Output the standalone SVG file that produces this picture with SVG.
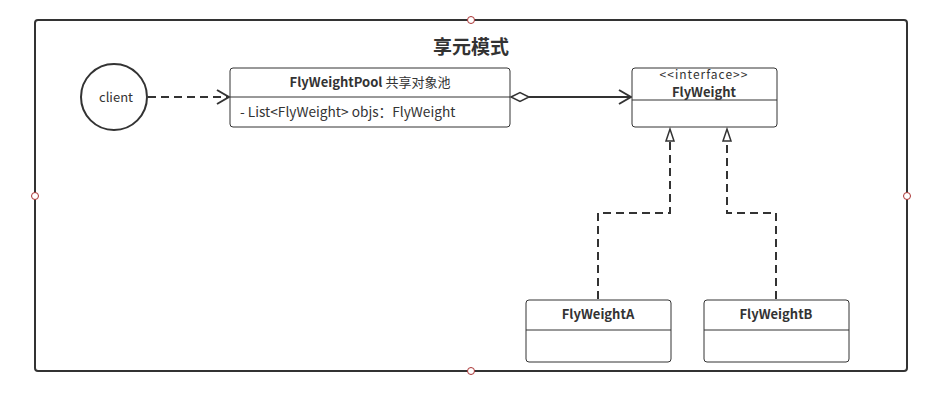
<svg xmlns="http://www.w3.org/2000/svg" width="941" height="400" viewBox="0 0 941 400">
<defs>
<style>
.box{fill:#fff;stroke:#333;stroke-width:1}
.frame{fill:none;stroke:#333;stroke-width:2}
.t{font-family:"Noto Sans CJK SC","Noto Sans",sans-serif;fill:#333;font-size:13px}
.b{font-weight:bold}
.c{stroke:#333;stroke-width:2;fill:none}
.d{stroke-dasharray:8,5}
.h{fill:#fff;stroke:#a33;stroke-width:1}
</style>
<marker id="open" markerWidth="14" markerHeight="16" refX="13" refY="8" orient="auto" markerUnits="userSpaceOnUse">
<path d="M1,1 L13,8 L1,15" fill="none" stroke="#333" stroke-width="2"/>
</marker>
</defs>
<rect x="0" y="0" width="941" height="400" fill="#fff"/>
<rect class="frame" x="35" y="20" width="872" height="351" rx="3"/>
<text class="t b" x="471" y="54" text-anchor="middle" style="font-size:19px">享元模式</text>
<g id="client">
<circle cx="114" cy="97" r="33" fill="#fff" stroke="#333" stroke-width="2"/>
<text class="t" x="116" y="102" text-anchor="middle">client</text>
</g>
<g id="pool">
<rect class="box" x="230" y="68" width="280" height="59" rx="3"/>
<line x1="230" y1="97" x2="510" y2="97" stroke="#333"/>
<text class="t b" x="370" y="87" text-anchor="middle">FlyWeightPool <tspan font-weight="normal">共享对象池</tspan></text>
<text class="t" x="240" y="117" style="font-size:13.7px">- List&lt;FlyWeight&gt; objs：FlyWeight</text>
</g>
<g id="flyweight">
<rect class="box" x="632" y="68" width="145" height="59" rx="3"/>
<line x1="632" y1="100" x2="777" y2="100" stroke="#333"/>
<text class="t" x="704" y="79" text-anchor="middle" style="font-size:12px;letter-spacing:1px">&lt;&lt;interface&gt;&gt;</text>
<text class="t b" x="704" y="97" text-anchor="middle">FlyWeight</text>
</g>
<g id="flyweightA">
<rect class="box" x="526" y="300" width="145" height="62" rx="3"/>
<line x1="526" y1="330" x2="671" y2="330" stroke="#333"/>
<text class="t b" x="598" y="319" text-anchor="middle">FlyWeightA</text>
</g>
<g id="flyweightB">
<rect class="box" x="704" y="300" width="145" height="62" rx="3"/>
<line x1="704" y1="330" x2="849" y2="330" stroke="#333"/>
<text class="t b" x="776" y="319" text-anchor="middle">FlyWeightB</text>
</g>
<g id="connectors">
<line class="c d" x1="148" y1="97" x2="229" y2="97" marker-end="url(#open)"/>
<path d="M511,97 L520,92.5 L529,97 L520,101.5 Z" fill="#fff" stroke="#333" stroke-width="1.5"/>
<line class="c" x1="529" y1="97" x2="631" y2="97" marker-end="url(#open)"/>
<path class="c d" d="M598,299 V213 H670 V140"/>
<path d="M666,141 L670,129 L674,141 Z" fill="#fff" stroke="#333" stroke-width="1.5"/>
<path class="c d" d="M776,299 V213 H727 V140"/>
<path d="M723,141 L727,129 L731,141 Z" fill="#fff" stroke="#333" stroke-width="1.5"/>
</g>
<circle class="h" cx="471" cy="20" r="3.5"/>
<circle class="h" cx="35" cy="196" r="3.5"/>
<circle class="h" cx="907" cy="196" r="3.5"/>
<circle class="h" cx="471" cy="371" r="3.5"/>
</svg>
